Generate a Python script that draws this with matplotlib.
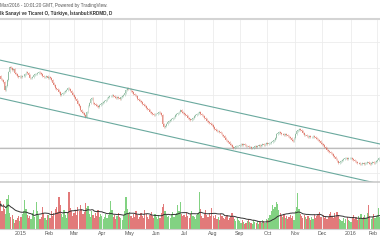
import numpy as np
import pandas as pd
import matplotlib
matplotlib.use("Agg")
import matplotlib.pyplot as plt
from matplotlib.lines import Line2D

# ---------------- data ----------------
dates = pd.bdate_range("2014-12-09", "2016-02-03")

close = [
    1.74,1.71,1.70,1.68,1.60,1.64,1.70,1.78,1.83,1.82,1.80,1.81,1.77,1.76,1.74,1.73,1.74,
    1.73,1.74,1.74,1.76,1.78,1.77,1.75,1.72,1.72,1.73,1.75,1.76,1.76,1.77,1.78,1.77,1.76,1.74,1.73,1.73,1.74,1.72,
    1.73,1.72,1.70,1.67,1.65,1.62,1.61,1.60,1.58,1.55,1.56,1.57,1.58,1.59,1.60,1.62,1.61,1.59,1.57,1.55,
    1.53,1.51,1.49,1.46,1.44,1.40,1.38,1.37,1.35,1.33,1.38,1.44,1.47,1.51,1.52,1.47,1.46,1.45,1.44,1.43,1.45,1.46,
    1.47,1.48,1.49,1.50,1.52,1.53,1.54,1.54,1.55,1.54,1.53,1.52,1.53,1.52,1.51,1.53,1.54,1.55,1.57,1.60,1.62,1.61,
    1.61,1.59,1.58,1.56,1.55,1.54,1.51,1.50,1.49,1.48,1.46,1.45,1.44,1.42,1.41,1.40,1.38,1.37,1.36,1.35,1.36,
    1.36,1.37,1.38,1.37,1.35,1.26,1.23,1.24,1.26,1.28,1.29,1.30,1.31,1.32,1.33,1.35,1.36,1.37,1.38,1.40,1.38,1.37,
    1.36,1.35,1.34,1.32,1.31,1.30,1.31,1.32,1.34,1.35,1.36,1.37,1.38,1.36,1.35,1.34,1.32,1.31,1.29,1.28,1.27,1.26,1.25,
    1.23,1.21,1.20,1.19,1.19,1.18,1.17,1.15,1.14,1.12,1.10,1.09,1.08,1.06,1.05,1.03,1.02,1.03,1.04,1.04,1.04,
    1.05,1.06,1.05,1.06,1.05,1.04,1.04,1.03,1.03,1.02,1.02,1.03,1.04,1.03,1.04,1.05,1.04,1.05,1.06,1.05,1.06,1.07,
    1.06,1.07,1.07,1.08,1.09,1.10,1.12,1.16,1.17,1.18,1.17,1.16,1.16,1.15,1.16,1.15,1.14,1.13,1.12,1.10,1.09,1.12,
    1.16,1.19,1.20,1.21,1.20,1.19,1.17,1.15,1.15,1.14,1.13,1.14,1.13,1.13,1.14,1.13,1.12,1.11,1.10,1.09,1.07,
    1.06,1.05,1.03,1.02,1.00,0.99,0.98,0.97,0.96,0.94,0.93,0.91,0.89,0.87,0.88,0.89,0.90,0.91,0.92,0.92,0.91,0.92,0.92,
    0.92,0.91,0.90,0.89,0.88,0.87,0.87,0.86,0.86,0.87,0.86,0.87,0.87,0.88,0.87,0.86,0.87,0.88,0.87,0.88,0.89,
    0.90,0.92,0.93,
]
first_open = 1.76

volume = [
    22,28,18,25,20,15,30,34,16,12,14,10,6,9,11,13,8,
    12,15,18,29,20,14,11,13,10,16,19,12,27,18,14,10,12,22,16,11,9,14,
    14,11,18,13,16,20,22,17,32,24,15,12,19,14,11,17,37,21,18,13,
    16,19,14,22,18,24,20,15,17,26,21,23,15,12,18,14,11,16,13,19,12,15,
    13,10,12,15,11,14,17,28,19,12,14,10,13,16,12,11,9,14,18,32,20,15,
    17,13,11,15,12,18,14,10,12,16,13,11,19,15,12,10,14,17,13,11,15,
    12,10,14,11,16,22,25,18,14,12,13,11,15,17,12,14,16,24,18,27,15,13,
    14,12,16,13,11,15,18,13,12,10,14,16,37,20,13,11,15,19,14,12,16,13,21,
    13,11,14,10,12,9,15,13,11,10,12,14,9,11,13,16,12,10,8,11,9,
    8,6,9,7,5,6,8,10,7,6,5,9,7,6,8,5,7,6,9,8,6,10,
    9,11,14,18,24,20,22,27,25,19,16,14,12,15,11,13,10,12,14,11,13,9,
    18,22,36,20,15,13,11,14,12,10,13,11,9,12,10,14,11,13,15,17,12,
    12,14,11,13,10,12,15,17,13,11,16,12,17,14,10,9,8,11,6,10,12,9,8,
    7,11,14,10,12,9,13,11,15,10,12,14,11,16,24,13,10,12,15,11,13,
    14,21,12,
]

month_labels = ["2015", "Feb", "Mar", "Apr", "May", "Jun", "Jul", "Aug",
                "Sep", "Oct", "Nov", "Dec", "2016", "Feb"]

# drawn trend channel (start date, price) -> (end date, price)
channel_upper = [("2014-12-09", 1.90), ("2016-02-03", 1.06)]
channel_lower = [("2014-12-09", 1.52), ("2016-02-03", 0.66)]
support_level = 1.025
grid_levels = [0.77, 1.03, 1.29, 1.55, 1.82, 2.08]

header_1 = "Mar/2016 - 10:01:20 GMT, Powered by TradingView."
header_2 = "lk Sanayi ve Ticaret O, Türkiye, İstanbul:KRDMD, D"

# ---------------- figure ----------------
n = min(len(dates), len(close), len(volume))
dates = dates[:n]
c = np.array(close[:n])
o = np.concatenate([[first_open], c[:-1]])
v = np.array(volume[:n], dtype=float)
idx = np.arange(n)
up = c >= o

W, H = 380, 240
fig = plt.figure(figsize=(W / 100, H / 100), dpi=100)
fig.patch.set_facecolor("white")

def fy(px):
    return 1 - px / H

ax = fig.add_axes([0, fy(182), 1, (182 - 20) / H])
axv = fig.add_axes([0, fy(229), 1, (229 - 182) / H], sharex=ax)

xlo, xhi = 0.4, 301.0
ax.set_xlim(xlo, xhi)
ax.set_ylim(0.68, 2.30)
axv.set_ylim(0, 47)

# month starts (index positions)
ser = pd.Series(idx, index=dates)
month_starts = ser.groupby([dates.year, dates.month]).first().values
month_starts = [m for m in month_starts if m > 2]
month_starts = month_starts[:len(month_labels)]

grid_c = "#ececec"
for a in (ax, axv):
    for m in month_starts:
        a.axvline(m, color=grid_c, lw=0.6, zorder=0)
for g in grid_levels:
    ax.axhline(g, color=grid_c, lw=0.6, zorder=0)

# support line
ax.axhline(support_level, color="#bdbdbd", lw=0.9, zorder=1)

# candles
up_c, dn_c = "#6ba583", "#d75442"
cols = np.where(up, up_c, dn_c)
wick = 0.008
hi = np.maximum(o, c) + wick
lo = np.minimum(o, c) - wick
ax.vlines(idx, lo, hi, colors=cols, lw=0.4, alpha=0.6, zorder=3)
body_h = np.maximum(np.abs(c - o), 0.004)
ax.bar(idx, body_h, bottom=np.minimum(o, c), width=0.7, color=cols,
       alpha=0.6, linewidth=0, zorder=3)

# trend channel
def to_idx(d):
    return float(np.searchsorted(dates, pd.Timestamp(d)))
for line in (channel_upper, channel_lower):
    xs = [to_idx(line[0][0]), to_idx(line[1][0])]
    ys = [line[0][1], line[1][1]]
    ax.plot(xs, ys, color="#6aa99e", lw=0.8, zorder=4)

# volume
vcols = np.where(up, "#82d282", "#e27a7a")
axv.bar(idx, v, width=0.95, color=vcols, linewidth=0, zorder=2)
ma = pd.Series(v).rolling(20, min_periods=1).mean()
axv.plot(idx, ma, color="#333333", lw=0.7, zorder=3)

# axes styling
for a in (ax, axv):
    for s in a.spines.values():
        s.set_visible(False)
    a.set_yticks([])
    a.tick_params(axis="both", length=0)
ax.tick_params(labelbottom=False)
axv.spines["top"].set_visible(True)
axv.spines["top"].set_color("#c6c6c6")
axv.spines["top"].set_linewidth(1.1)
axv.spines["bottom"].set_visible(True)
axv.spines["bottom"].set_color("#d0d0d0")
axv.spines["bottom"].set_linewidth(0.8)
axv.set_xticks(month_starts)
tl = axv.set_xticklabels(month_labels[:len(month_starts)], fontsize=3.8,
                         color="#555555", family="Liberation Sans")
tl[-1].set_horizontalalignment("right")
axv.tick_params(axis="x", pad=1.6)

# header
fig.text(0.0, fy(5), header_1, fontsize=3.35, color="#555555",
         family="Liberation Sans", va="center", ha="left")
fig.text(0.0, fy(13), header_2, fontsize=3.3, color="#333333",
         family="Liberation Sans", weight="bold", va="center", ha="left")
fig.add_artist(Line2D([0, 1], [fy(18.5)] * 2, color="#d4d4d4", lw=1.5))

fig.savefig("out.png", dpi=100, facecolor="white")
